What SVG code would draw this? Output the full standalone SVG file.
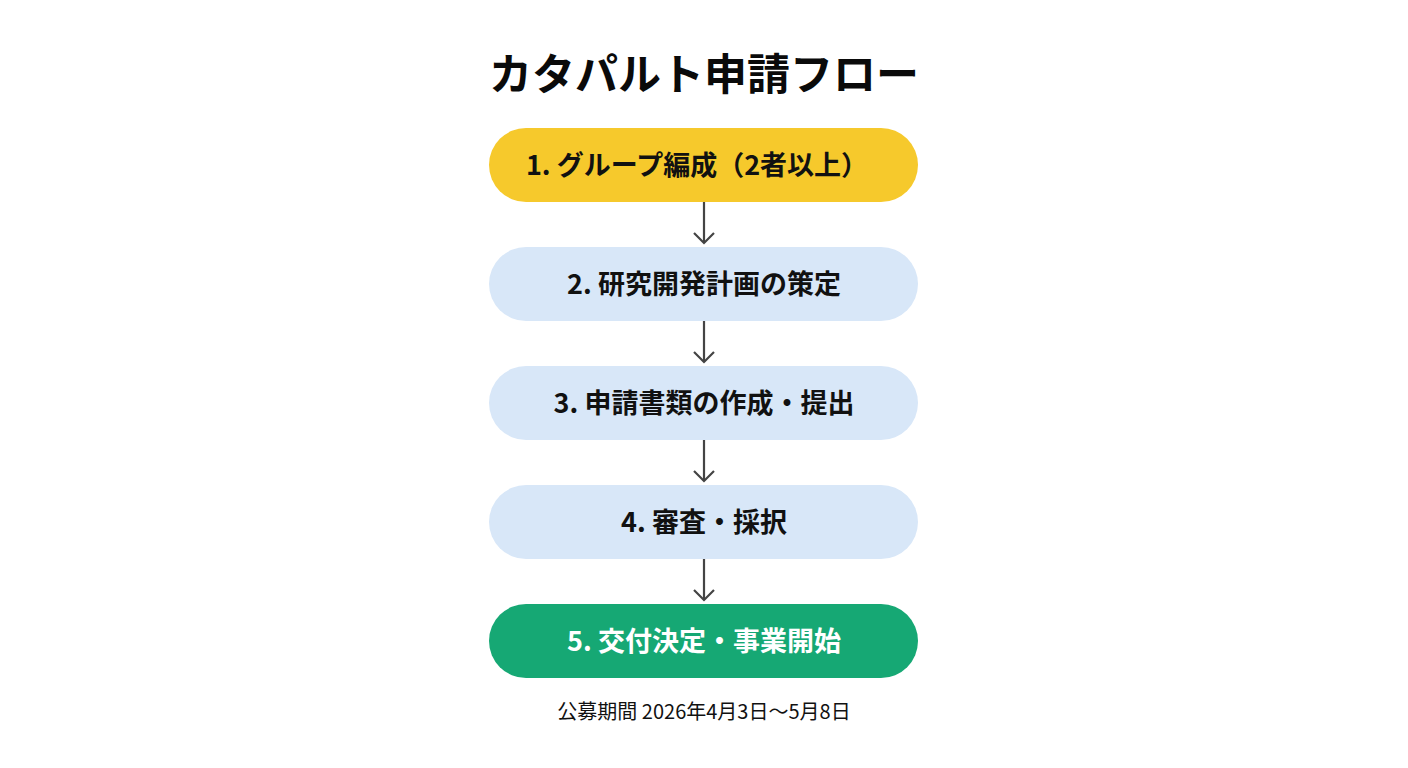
<svg xmlns="http://www.w3.org/2000/svg" width="1408" height="768" viewBox="0 0 1408 768">
<style>
.t{font-family:"Noto Sans CJK JP","Noto Sans",sans-serif;font-weight:700;text-anchor:middle}
.lbl{font-size:27px;fill:#111}
.box{stroke:none}
.ar{stroke:#444;stroke-width:2.2;fill:none}
</style>
<defs>
<marker id="ah" viewBox="0 0 20 22" refX="15" refY="11" markerWidth="20" markerHeight="22" markerUnits="userSpaceOnUse" orient="auto">
<path d="M5,1 L15,11 L5,21" fill="none" stroke="#444" stroke-width="2.2"/>
</marker>
</defs>
<rect width="1408" height="768" fill="#ffffff"/>
<text class="t" x="704" y="90" font-size="43" fill="#0a0a0a">カタパルト申請フロー</text>
<g id="n1"><rect class="box" x="489" y="128" width="429" height="74" rx="37" fill="#F6C92C"/><text class="t lbl" x="697" y="175">1. グループ編成（2者以上）</text></g>
<g id="n2"><rect class="box" x="489" y="247" width="429" height="74" rx="37" fill="#D8E7F8"/><text class="t lbl" x="704" y="294">2. 研究開発計画の策定</text></g>
<g id="n3"><rect class="box" x="489" y="366" width="429" height="74" rx="37" fill="#D8E7F8"/><text class="t lbl" x="704" y="413">3. 申請書類の作成・提出</text></g>
<g id="n4"><rect class="box" x="489" y="485" width="429" height="74" rx="37" fill="#D8E7F8"/><text class="t lbl" x="704" y="532">4. 審査・採択</text></g>
<g id="n5"><rect class="box" x="489" y="604" width="429" height="74" rx="37" fill="#16A874"/><text class="t lbl" x="704" y="651" style="fill:#fff">5. 交付決定・事業開始</text></g>
<g id="connectors">
<line class="ar" x1="704" y1="202" x2="704" y2="243" marker-end="url(#ah)"/>
<line class="ar" x1="704" y1="321" x2="704" y2="362" marker-end="url(#ah)"/>
<line class="ar" x1="704" y1="440" x2="704" y2="481" marker-end="url(#ah)"/>
<line class="ar" x1="704" y1="559" x2="704" y2="600" marker-end="url(#ah)"/>
</g>
<text x="704" y="719" font-family="Noto Sans CJK JP,Noto Sans,sans-serif" font-size="20" font-weight="400" text-anchor="middle" fill="#111">公募期間 2026年4月3日〜5月8日</text>
</svg>
